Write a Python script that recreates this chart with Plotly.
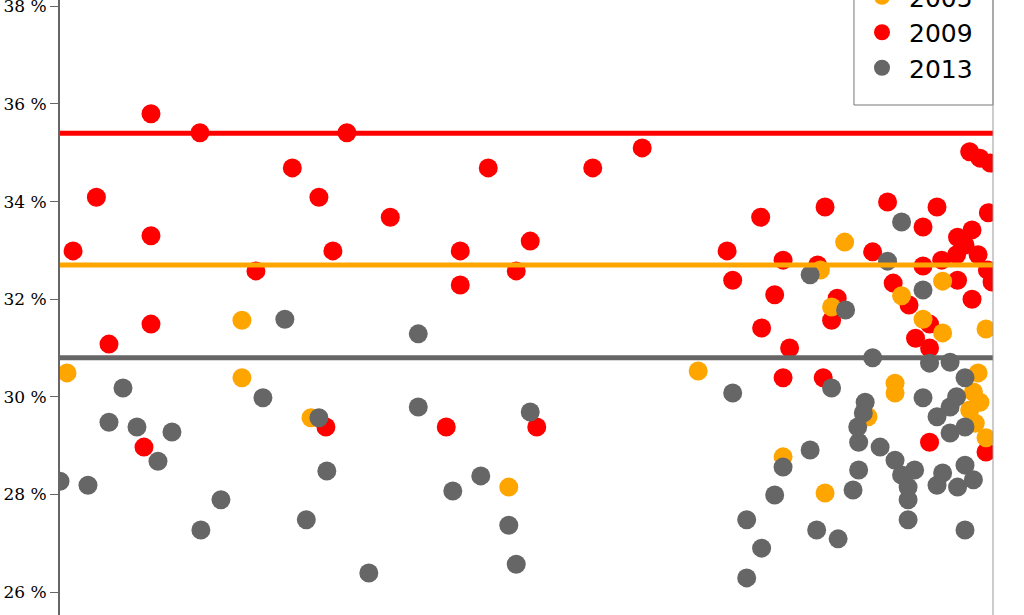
import plotly.graph_objects as go

# ---- data (x: relative position 0-100, y: percent) ----
x_2009 = [1.4, 3.9, 5.25, 9.75, 9.75, 9.75, 9.0, 15.0, 21.0, 24.9, 27.75, 29.25, 28.5, 30.75,
          35.4, 41.4, 42.9, 42.9, 45.9, 48.9, 50.4, 51.1, 57.1, 62.4, 71.5, 72.1, 75.1, 75.2,
          76.6, 77.5, 78.2, 77.5, 81.2, 82.0, 81.8, 82.7, 83.3, 87.1, 88.7, 89.3, 91.0, 91.7,
          92.5, 92.5, 93.2, 93.2, 94.0, 94.5, 96.1, 96.2, 97.0, 97.75, 98.4, 96.2, 97.75, 99.4,
          99.9, 99.5, 97.5, 98.6, 99.7, 93.2, 99.25]
y_2009 = [32.99, 34.09, 31.08, 35.80, 33.30, 31.49, 28.97, 35.41, 32.58, 34.69, 34.09, 32.99, 29.38, 35.41,
          33.68, 29.38, 32.99, 32.29, 34.69, 32.58, 33.19, 29.38, 34.69, 35.10, 32.99, 32.39, 33.68, 31.41,
          32.09, 32.80, 31.00, 30.39, 32.70, 33.89, 30.39, 31.57, 32.02, 32.97, 33.99, 32.33, 31.88, 31.20,
          33.48, 32.68, 31.49, 31.00, 33.89, 32.80, 32.91, 33.27, 33.11, 33.42, 32.91, 32.39, 32.00, 32.60,
          32.35, 33.77, 35.02, 34.89, 34.79, 29.07, 28.87]

x_2005 = [0.75, 19.5, 19.5, 26.9, 48.1, 68.4, 77.5, 81.5, 82.0, 82.7, 84.1, 86.6, 89.5, 89.5,
          90.2, 92.5, 94.6, 94.6, 99.25, 98.4, 97.9, 98.6, 97.5, 98.1, 99.25]
y_2005 = [30.49, 31.57, 30.39, 29.57, 28.15, 30.53, 28.77, 32.60, 28.03, 31.84, 33.17, 29.59, 30.28, 30.08,
          32.07, 31.59, 32.37, 31.31, 31.39, 30.49, 30.10, 29.89, 29.73, 29.46, 29.16]

x_2013 = [0.0, 3.0, 5.25, 6.75, 8.25, 10.5, 12.0, 15.1, 17.25, 21.75, 24.1, 27.75, 28.6, 26.4,
          33.1, 38.4, 38.4, 42.1, 45.1, 48.1, 48.9, 50.4, 72.1, 73.6, 75.2, 73.6, 76.6, 77.5,
          80.4, 80.4, 81.1, 83.4, 82.7, 84.2, 85.0, 85.6, 85.6, 85.5, 86.1, 86.3, 87.1, 87.9,
          88.7, 89.5, 90.2, 90.2, 90.9, 90.9, 90.9, 91.6, 92.5, 92.5, 93.2, 94.0, 94.0, 94.6,
          95.4, 95.4, 95.4, 96.1, 96.2, 97.0, 97.0, 97.0, 97.0, 97.9]
y_2013 = [28.27, 28.19, 29.48, 30.18, 29.38, 28.68, 29.28, 27.27, 27.89, 29.98, 31.59, 29.57, 28.48, 27.48,
          26.39, 31.29, 29.79, 28.07, 28.38, 27.37, 26.57, 29.69, 30.08, 27.48, 26.90, 26.29, 27.99, 28.56,
          32.50, 28.91, 27.27, 27.09, 30.18, 31.78, 28.09, 28.50, 29.07, 29.38, 29.67, 29.89, 30.80, 28.97,
          32.78, 28.70, 33.58, 28.40, 28.15, 27.89, 27.48, 28.50, 32.19, 29.98, 30.69, 29.59, 28.19, 28.44,
          30.71, 29.79, 29.26, 30.00, 28.15, 30.39, 29.38, 28.60, 27.27, 28.30]

avg_2005 = 32.7
avg_2009 = 35.4
avg_2013 = 30.8

y_ticks = [26, 28, 30, 32, 34, 36, 38]
y_ticktext = ["26 %", "28 %", "30 %", "32 %", "34 %", "36 %", "38 %"]

C2005 = "#FFA500"
C2009 = "#FF0000"
C2013 = "#666666"

fig = go.Figure()
mk = dict(size=19, line=dict(width=0))
fig.add_trace(go.Scatter(x=x_2009, y=y_2009, mode="markers", name="2009",
                         marker=dict(color=C2009, **mk), legendrank=2))
fig.add_trace(go.Scatter(x=x_2005, y=y_2005, mode="markers", name="2005",
                         marker=dict(color=C2005, **mk), legendrank=1))
fig.add_trace(go.Scatter(x=x_2013, y=y_2013, mode="markers", name="2013",
                         marker=dict(color=C2013, **mk), legendrank=3))

for val, col in [(avg_2009, C2009), (avg_2005, C2005), (avg_2013, C2013)]:
    fig.add_shape(type="line", xref="paper", x0=0, x1=1, yref="y", y0=val, y1=val,
                  line=dict(color=col, width=5), layer="above")

# legend frame
fig.add_shape(type="rect", xref="paper", yref="paper", x0=0.851, x1=1.0,
              y0=1 - 105 / 615, y1=1.05, fillcolor="white",
              line=dict(color="#777777", width=1), layer="above")

fig.add_shape(type="line", xref="paper", x0=1, x1=1, yref="paper", y0=0, y1=1,
              line=dict(color="#999999", width=1), layer="above")

fig.update_layout(
    width=1024, height=615,
    margin=dict(l=60, r=31, t=0, b=0, autoexpand=False),
    paper_bgcolor="white", plot_bgcolor="white",
    showlegend=True,
    legend=dict(x=(855 - 60) / 933, xanchor="left", y=1 - 91 / 615, yanchor="bottom",
                bgcolor="rgba(0,0,0,0)", borderwidth=0,
                font=dict(family="DejaVu Sans", size=25, color="black"),
                itemwidth=44, traceorder="normal"),
    xaxis=dict(range=[0, 100], visible=False, showgrid=False, zeroline=False),
    yaxis=dict(range=[25.53, 38.13], tickvals=y_ticks, ticktext=y_ticktext,
               ticklabeloverflow="allow",
               showgrid=False, zeroline=False, showline=True, linecolor="#666666", linewidth=2,
               ticks="outside", ticklen=8, tickcolor="#666666", tickwidth=1,
               tickfont=dict(family="DejaVu Serif", size=17, color="black")),
)

fig.write_html("out.html", config={"displayModeBar": False},
               post_script="document.body.style.margin='0';document.body.style.overflow='hidden';")
